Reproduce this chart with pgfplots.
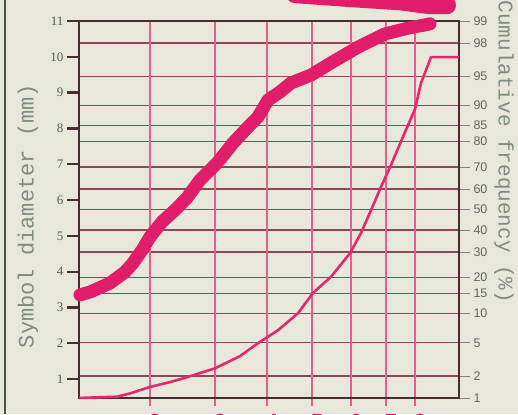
\documentclass[border=0pt]{standalone}
\usepackage{pgfplots}
\pgfplotsset{compat=1.18}
\usepackage{fontspec}
\setmainfont{Liberation Serif}
\newfontfamily\sansf{Liberation Sans}
\newfontfamily\monof{Liberation Mono}
\definecolor{paper}{RGB}{231,232,218}
\definecolor{hotpink}{RGB}{225,28,105}
\definecolor{thinpink}{RGB}{228,40,110}
\definecolor{gridpink}{RGB}{228,95,140}
\definecolor{griddark}{RGB}{140,72,88}
\definecolor{framedark}{RGB}{72,45,48}
\definecolor{ltxt}{RGB}{80,92,82}
\definecolor{rtxt}{RGB}{100,100,98}
\definecolor{lbl}{RGB}{128,140,128}
\definecolor{edge}{RGB}{70,85,72}
\pgfplotsset{
  common/.style={at={(79pt,16pt)}, anchor=south west, width=380pt, height=377pt,
    scale only axis, xmin=0, xmax=380},
}
\begin{document}
\begin{tikzpicture}
\fill[paper] (0pt,0pt) rectangle (518pt,414pt);
\draw[edge, line width=1.5pt] (5pt,0pt) -- (5pt,414pt);
% ---- A: probability scale, horizontal grid + right ticks
\begin{axis}[common,
  ymin=-2.3263, ymax=2.3263,
  axis x line=none, axis y line*=right, y axis line style={draw=none},
  ytick={-2.3263,-2.0537,-1.6449,-1.2816,-1.0364,-0.8416,-0.5244,-0.2533,0,0.2533,0.5244,0.8416,1.0364,1.2816,1.6449,2.0537,2.3263},
  yticklabels={1,2,5,10,15,20,30,40,50,60,70,80,85,90,95,98,99},
  ymajorgrids, major grid style={color=griddark, line width=1.4pt},
  tick align=outside, major tick length=11pt,
  tick style={color=rtxt!80, line width=0.8pt},
  yticklabel style={font=\sansf\fontsize{12.5}{14}\selectfont, text=rtxt},
]
\end{axis}
% ---- B: vertical grid, x ticks, frame
\begin{axis}[common,
  ymin=0.47, ymax=11,
  axis line style={draw=framedark, line width=1.8pt},
  xtick={71,136,188,233,272,307,336}, xticklabels={2,3,4,5,6,7,8},
  xtick pos=left, ytick=\empty,
  xmajorgrids, x grid style={color=gridpink, line width=1.1pt},
  tick align=outside, major tick length=8pt,
  tick style={color=gridpink, line width=1.1pt},
  xticklabel style={font=\sansf\bfseries\fontsize{22}{24}\selectfont, text=hotpink, xshift=5pt, anchor=north, yshift=-5pt},
]
\end{axis}
% ---- C: thin cumulative-frequency curve (probit units)
\begin{axis}[common,
  ymin=-2.3263, ymax=2.3263,
  hide axis, clip=false,
]
\addplot[thinpink, line width=2.6pt, line join=round] coordinates {
(0,-2.326)(38,-2.31)(51,-2.27)(71,-2.19)(91,-2.13)(108,-2.07)(136,-1.96)(161,-1.81)
(179,-1.65)(199,-1.49)(219,-1.28)(234,-1.03)(252,-0.83)(271,-0.54)(282,-0.29)(292,-0.01)
(302,0.28)(311,0.52)(322,0.84)(336,1.24)(342,1.56)(352,1.88)(380,1.88)};
\end{axis}
% ---- D: symbol diameter, left ticks, thick curve
\begin{axis}[common,
  ymin=0.47, ymax=11,
  axis x line=none, axis y line*=left, y axis line style={draw=none},
  ytick={1,2,...,11},
  tick align=outside, major tick length=12pt,
  tick style={color=framedark, line width=2.2pt},
  /pgf/number format/assume math mode=true,
  yticklabel style={font=\fontsize{13}{15}\selectfont, text=ltxt},
  clip=false,
]
\addplot[hotpink, line width=13pt, line cap=round, line join=round] coordinates {
(1,3.35)(11,3.43)(31,3.68)(46,3.99)(54,4.24)(63,4.60)(71,4.97)(83,5.39)(96,5.72)
(108,6.06)(121,6.56)(138,7.03)(154,7.59)(169,8.04)(179,8.32)(189,8.79)(201,9.02)
(212,9.27)(232,9.49)(252,9.83)(279,10.27)(306,10.64)(329,10.80)(351,10.92)};
\addplot[hotpink, line width=18pt, line cap=round, line join=round] coordinates {
(216,11.75)(271,11.64)(321,11.55)(351,11.44)(368,11.44)};
\end{axis}
\node[rotate=90, font=\monof\fontsize{22}{24}\selectfont, text=lbl] at (28pt,198pt) {Symbol diameter (mm)};
\node[rotate=-90, font=\monof\fontsize{21}{23}\selectfont, text=lbl] at (504pt,262pt) {Cumulative frequency (\%)};
\pgfresetboundingbox
\path[use as bounding box] (0pt,0pt) rectangle (518pt,414pt);
\end{tikzpicture}
\end{document}
